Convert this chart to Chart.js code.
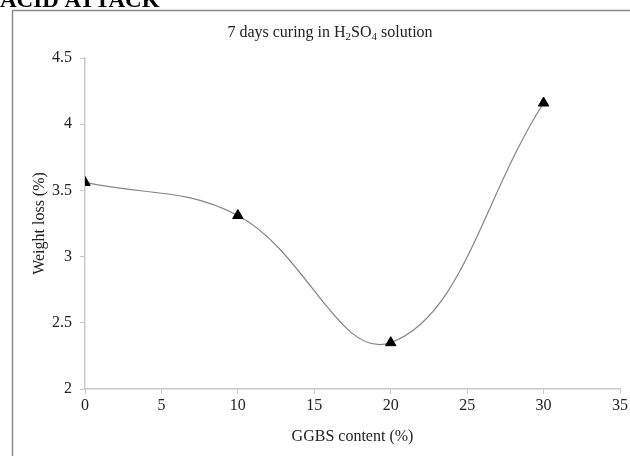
<!DOCTYPE html>
<html>
<head>
<meta charset="utf-8">
<script src="https://cdn.jsdelivr.net/npm/chart.js@4/dist/chart.umd.min.js"></script>
<style>
  html, body { margin: 0; padding: 0; background: #fff; }
  #wrap { width: 630px; height: 456px; position: relative; }
</style>
</head>
<body>
<div id="wrap"><canvas id="chart"></canvas></div>
<script>
// data
const ggbs = [0, 10, 20, 30];
const weightLoss = [3.56, 3.31, 2.35, 4.16];
const xTicks = [0, 5, 10, 15, 20, 25, 30, 35];
const yTicks = [2, 2.5, 3, 3.5, 4, 4.5];

const serif = "'Liberation Serif', 'Times New Roman', serif";

// frame, cut-off heading and the title with subscripts
const decorations = {
    id: 'decorations',
    beforeDraw(chart) {
        const ctx = chart.ctx;
        ctx.save();
        ctx.fillStyle = '#fff';
        ctx.fillRect(0, 0, chart.width, chart.height);
        ctx.strokeStyle = '#8c8c8c';
        ctx.lineWidth = 1.5;
        ctx.strokeRect(12.5, 10.5, chart.width + 20, chart.height + 20);

        ctx.fillStyle = '#000';
        ctx.font = "bold 23px " + serif;
        ctx.textBaseline = 'alphabetic';
        ctx.fillText('ACID ATTACK', 0, 7);
        ctx.restore();
    },
    afterDraw(chart) {
        const ctx = chart.ctx;
        const parts = [
            ['7 days curing in H', false], ['2', true], ['SO', false], ['4', true], [' solution', false]
        ];
        const big = "16px " + serif, small = "11px " + serif;
        ctx.save();
        let total = 0;
        parts.forEach(p => { ctx.font = p[1] ? small : big; total += ctx.measureText(p[0]).width; });
        let x = 330 - total / 2;
        const y = 37;
        ctx.fillStyle = '#222';
        ctx.textBaseline = 'alphabetic';
        parts.forEach(p => {
            ctx.font = p[1] ? small : big;
            ctx.fillText(p[0], x, p[1] ? y + 3 : y);
            x += ctx.measureText(p[0]).width;
        });
        ctx.restore();
    }
};

new Chart(document.getElementById('chart'), {
    type: 'line',
    data: {
        datasets: [{
            data: ggbs.map((g, i) => ({ x: g, y: weightLoss[i] })),
            borderColor: '#858585',
            borderWidth: 1.2,
            tension: 0.4,
            pointStyle: 'triangle',
            pointRadius: 6,
            pointBackgroundColor: '#000',
            pointBorderColor: '#000',
            pointBorderWidth: 1,
            fill: false
        }]
    },
    options: {
        responsive: true,
        maintainAspectRatio: false,
        animation: false,
        layout: { padding: { left: 0, right: 10, top: 58, bottom: 0 }, autoPadding: false },
        plugins: {
            legend: { display: false },
            tooltip: { enabled: false }
        },
        scales: {
            x: {
                type: 'linear',
                min: xTicks[0],
                max: xTicks[xTicks.length - 1],
                afterBuildTicks(scale) { scale.ticks = xTicks.map(v => ({ value: v })); },
                afterFit(scale) { scale.height = 67; },
                grid: { drawOnChartArea: false, tickLength: 5, color: '#c8c8c8' },
                border: { color: '#c8c8c8', width: 1.5 },
                ticks: { color: '#222', font: { family: serif, size: 16 }, padding: 2,
                         callback: v => String(v) },
                title: {
                    display: true, text: 'GGBS content (%)', color: '#222',
                    font: { family: serif, size: 16 }, padding: { top: 0, bottom: 10 }
                }
            },
            y: {
                min: yTicks[0],
                max: yTicks[yTicks.length - 1],
                afterBuildTicks(scale) { scale.ticks = yTicks.map(v => ({ value: v })); },
                afterFit(scale) { scale.width = 85; },
                grid: { drawOnChartArea: false, tickLength: 5, color: '#c8c8c8' },
                border: { color: '#c8c8c8', width: 1.5 },
                ticks: { color: '#222', font: { family: serif, size: 16 }, padding: 8,
                         callback: v => String(v) },
                title: {
                    display: true, text: 'Weight loss (%)', color: '#222',
                    font: { family: serif, size: 16 }, padding: { top: 30, bottom: 0 }
                }
            }
        }
    },
    plugins: [decorations]
});
</script>
</body>
</html>
